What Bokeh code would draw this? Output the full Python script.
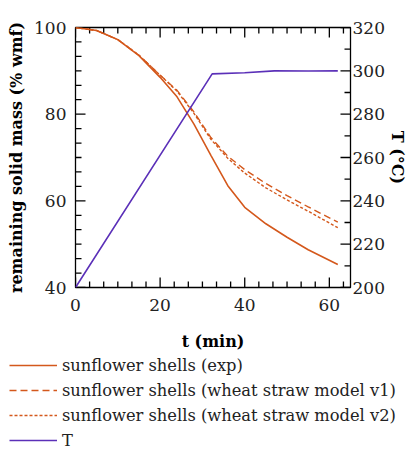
import numpy as np
from bokeh.plotting import figure
from bokeh.layouts import column
from bokeh.models import Range1d, LinearAxis, SingleIntervalTicker, Legend, LegendItem
from bokeh.embed import file_html
from bokeh.resources import INLINE

# ---- data ----
t_mass = [0, 5, 10, 15, 20, 24, 28, 32, 36, 40, 45, 50, 55, 62]
exp_mass = [100, 99.3, 97.2, 93.5, 88.5, 84.0, 77.7, 70.5, 63.5, 58.5, 54.7, 51.6, 48.7, 45.3]
v1_mass = [100, 99.3, 97.2, 93.6, 89.0, 85.5, 80.5, 74.6, 70.3, 67.2, 64.0, 61.2, 58.6, 55.1]
v2_mass = [100, 99.3, 97.2, 93.6, 89.0, 85.3, 80.2, 74.2, 69.8, 66.4, 63.0, 60.2, 57.6, 53.8]
t_temp = [0, 32.3, 40, 47, 55, 62]
temp = [200, 298.6, 299.1, 300, 299.9, 300]

labels = ["sunflower shells (exp)",
          "sunflower shells (wheat straw model v1)",
          "sunflower shells (wheat straw model v2)",
          "T"]

X_MIN, X_MAX = 0, 65
Y_MIN, Y_MAX = 40, 100
T_MIN, T_MAX = 200, 320

ORANGE = "#d4581c"
PURPLE = "#5b30b8"
FONT = "DejaVu Serif"

p = figure(width=409, height=355, x_range=Range1d(X_MIN, X_MAX), y_range=Range1d(Y_MIN, Y_MAX),
           output_backend="svg", toolbar_location=None,
           min_border_left=75, min_border_right=51, min_border_top=27, min_border_bottom=68)
p.extra_y_ranges = {"T": Range1d(T_MIN, T_MAX)}
p.grid.visible = False
p.outline_line_color = "black"
p.outline_line_width = 1.3
p.background_fill_color = "white"
p.border_fill_color = "white"

def style(ax):
    ax.major_tick_in = 0
    ax.major_tick_out = 0
    ax.minor_tick_in = 0
    ax.minor_tick_out = 0
    ax.axis_line_color = None
    ax.major_label_text_font = FONT
    ax.major_label_text_font_size = "17px"
    ax.major_label_text_color = "#222222"
    ax.axis_label_text_font = FONT
    ax.axis_label_text_font_style = "bold"
    ax.axis_label_text_font_size = "16px"
    ax.axis_label_text_color = "black"

yax = p.yaxis[0]
yax.ticker = SingleIntervalTicker(interval=20)
style(yax)
yax.axis_label = "remaining solid mass (% wmf)"
yax.major_label_standoff = 9
yax.axis_label_standoff = 5

xax = p.xaxis[0]
xax.ticker = SingleIntervalTicker(interval=20)
style(xax)
xax.axis_label = "t (min)"
xax.major_label_standoff = 11
xax.axis_label_standoff = 18

rax = LinearAxis(y_range_name="T", ticker=SingleIntervalTicker(interval=20))
style(rax)
rax.axis_label = "T (°C)"
rax.major_label_standoff = 2
rax.axis_label_standoff = 0
p.add_layout(rax, "right")

# inward tick marks on all four frame sides (half of each dash is clipped by the frame)
x_major = np.arange(X_MIN, X_MAX + 0.01, 20)
x_minor = np.array([v for v in np.arange(X_MIN, X_MAX + 0.01, 20 / 6) if abs(v / 20 - round(v / 20)) > 1e-6])
y_major = np.arange(Y_MIN, Y_MAX + 0.01, 20)
y_minor = np.array([v for v in np.arange(Y_MIN, Y_MAX + 0.01, 20 / 6) if abs((v - Y_MIN) / 20 - round((v - Y_MIN) / 20)) > 1e-6])
t_major = np.arange(T_MIN, T_MAX + 0.01, 20)
t_minor = np.arange(T_MIN + 10, T_MAX, 20)

tick = dict(marker="dash", line_color="black", line_width=1.3)
for xs, sz in ((x_major, 20), (x_minor, 12)):
    p.scatter(xs, np.full(len(xs), Y_MIN), size=sz, angle=np.pi / 2, **tick)
    p.scatter(xs, np.full(len(xs), Y_MAX), size=sz, angle=np.pi / 2, **tick)
for ys, sz in ((y_major, 20), (y_minor, 12)):
    p.scatter(np.full(len(ys), X_MIN), ys, size=sz, **tick)
for ys, sz in ((t_major, 20), (t_minor, 12)):
    p.scatter(np.full(len(ys), X_MAX), ys, size=sz, y_range_name="T", **tick)

# curves
p.line(t_mass, exp_mass, line_color=ORANGE, line_width=1.6)
p.line(t_mass, v1_mass, line_color=ORANGE, line_width=1.4, line_dash="7 4")
p.line(t_mass, v2_mass, line_color=ORANGE, line_width=1.4, line_dash="3 2")
p.line(t_temp, temp, line_color=PURPLE, line_width=1.6, y_range_name="T")

# legend in its own strip below the plot (its lines lie outside this strip's ranges)
q = figure(width=409, height=95, x_range=Range1d(-2, -1), y_range=Range1d(-2, -1),
           output_backend="svg", toolbar_location=None, min_border=0,
           x_axis_location=None, y_axis_location=None)
q.grid.visible = False
q.outline_line_color = None
q.border_fill_color = "white"
for fig in (p, q):
    if "frame_align" in fig.properties():
        fig.frame_align = False
l_exp = q.line(t_mass, exp_mass, line_color=ORANGE, line_width=1.6)
l_v1 = q.line(t_mass, v1_mass, line_color=ORANGE, line_width=1.4, line_dash="7 4")
l_v2 = q.line(t_mass, v2_mass, line_color=ORANGE, line_width=1.4, line_dash="3 2")
l_t = q.line(t_temp, temp, line_color=PURPLE, line_width=1.6)

legend = Legend(items=[LegendItem(label=labels[0], renderers=[l_exp]),
                       LegendItem(label=labels[1], renderers=[l_v1]),
                       LegendItem(label=labels[2], renderers=[l_v2]),
                       LegendItem(label=labels[3], renderers=[l_t])],
                location=(9, 0), orientation="vertical")
legend.margin = 0
legend.padding = 0
legend.spacing = 5
legend.glyph_width = 48
legend.glyph_height = 20
legend.label_height = 20
legend.label_standoff = 5
legend.label_text_font = FONT
legend.label_text_font_size = "16.3px"
legend.label_text_color = "#222222"
legend.border_line_color = None
legend.background_fill_alpha = 0
q.add_layout(legend)

layout = column(p, q, spacing=0)
open("out.html", "w").write(file_html(layout, INLINE))
